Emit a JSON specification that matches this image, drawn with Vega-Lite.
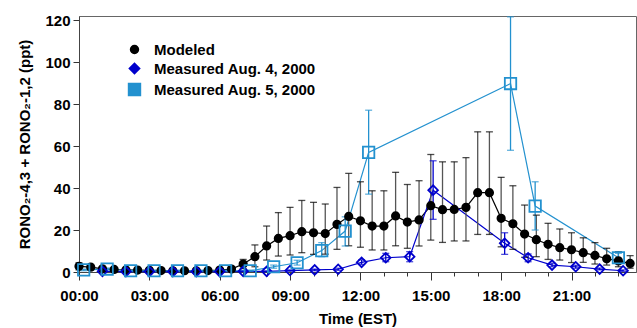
{
  "$schema": "https://vega.github.io/schema/vega-lite/v6.json",
  "width": 557,
  "height": 256,
  "autosize": {"type": "none"},
  "padding": {"left": 79, "top": 16, "right": 1, "bottom": 56},
  "background": "white",
  "config": {
    "font": "Liberation Sans",
    "view": {"stroke": "#666", "strokeWidth": 1},
    "axis": {"labelFont": "Liberation Sans", "labelFontSize": 15, "labelFontWeight": "bold", "labelColor": "black", "titleFont": "Liberation Sans", "titleFontSize": 15, "titleFontWeight": "bold", "titleColor": "black", "domainColor": "#444", "tickColor": "#333", "grid": false}
  },
  "data": {"values": [
    {"series": "Modeled", "t": 0.0, "v": 2.7, "lo": 1.0, "hi": 4.4},
    {"series": "Modeled", "t": 0.5, "v": 2.3, "lo": 1.0, "hi": 3.6},
    {"series": "Modeled", "t": 1.0, "v": 1.5, "lo": 0.6, "hi": 2.4},
    {"series": "Modeled", "t": 1.5, "v": 1.2, "lo": 0.5, "hi": 2.0},
    {"series": "Modeled", "t": 2.0, "v": 1.0, "lo": 0.4, "hi": 1.6},
    {"series": "Modeled", "t": 2.5, "v": 0.9, "lo": 0.4, "hi": 1.4},
    {"series": "Modeled", "t": 3.0, "v": 0.8, "lo": 0.3, "hi": 1.3},
    {"series": "Modeled", "t": 3.5, "v": 0.7, "lo": 0.3, "hi": 1.1},
    {"series": "Modeled", "t": 4.0, "v": 0.6, "lo": 0.3, "hi": 1.0},
    {"series": "Modeled", "t": 4.5, "v": 0.6, "lo": 0.3, "hi": 1.0},
    {"series": "Modeled", "t": 5.0, "v": 0.6, "lo": 0.3, "hi": 1.0},
    {"series": "Modeled", "t": 5.5, "v": 0.7, "lo": 0.3, "hi": 1.1},
    {"series": "Modeled", "t": 6.0, "v": 0.9, "lo": 0.4, "hi": 1.5},
    {"series": "Modeled", "t": 6.5, "v": 1.4, "lo": 0.6, "hi": 2.4},
    {"series": "Modeled", "t": 7.0, "v": 3.8, "lo": 1.6, "hi": 6.0},
    {"series": "Modeled", "t": 7.5, "v": 7.3, "lo": 2.5, "hi": 12.9},
    {"series": "Modeled", "t": 8.0, "v": 12.4, "lo": 5.7, "hi": 21.9},
    {"series": "Modeled", "t": 8.5, "v": 16.0, "lo": 7.6, "hi": 28.3},
    {"series": "Modeled", "t": 9.0, "v": 17.3, "lo": 8.1, "hi": 30.8},
    {"series": "Modeled", "t": 9.5, "v": 19.2, "lo": 9.2, "hi": 34.1},
    {"series": "Modeled", "t": 10.0, "v": 18.7, "lo": 8.4, "hi": 33.2},
    {"series": "Modeled", "t": 10.5, "v": 18.3, "lo": 8.5, "hi": 32.4},
    {"series": "Modeled", "t": 11.0, "v": 22.7, "lo": 10.8, "hi": 40.3},
    {"series": "Modeled", "t": 11.5, "v": 26.5, "lo": 12.5, "hi": 47.0},
    {"series": "Modeled", "t": 12.0, "v": 24.4, "lo": 11.8, "hi": 43.0},
    {"series": "Modeled", "t": 12.5, "v": 21.9, "lo": 10.5, "hi": 38.7},
    {"series": "Modeled", "t": 13.0, "v": 21.9, "lo": 10.5, "hi": 38.7},
    {"series": "Modeled", "t": 13.5, "v": 26.7, "lo": 12.5, "hi": 47.5},
    {"series": "Modeled", "t": 14.0, "v": 23.8, "lo": 11.3, "hi": 41.7},
    {"series": "Modeled", "t": 14.5, "v": 24.8, "lo": 12.4, "hi": 43.5},
    {"series": "Modeled", "t": 15.0, "v": 31.6, "lo": 15.2, "hi": 56.0},
    {"series": "Modeled", "t": 15.5, "v": 29.7, "lo": 14.1, "hi": 52.5},
    {"series": "Modeled", "t": 16.0, "v": 29.8, "lo": 14.8, "hi": 52.5},
    {"series": "Modeled", "t": 16.5, "v": 30.8, "lo": 14.8, "hi": 54.5},
    {"series": "Modeled", "t": 17.0, "v": 37.8, "lo": 17.9, "hi": 66.8},
    {"series": "Modeled", "t": 17.5, "v": 37.8, "lo": 17.9, "hi": 66.8},
    {"series": "Modeled", "t": 18.0, "v": 25.6, "lo": 12.0, "hi": 45.1},
    {"series": "Modeled", "t": 18.5, "v": 23.0, "lo": 10.8, "hi": 41.1},
    {"series": "Modeled", "t": 19.0, "v": 18.1, "lo": 7.0, "hi": 31.9},
    {"series": "Modeled", "t": 19.5, "v": 15.4, "lo": 7.3, "hi": 27.1},
    {"series": "Modeled", "t": 20.0, "v": 13.2, "lo": 6.0, "hi": 23.2},
    {"series": "Modeled", "t": 20.5, "v": 11.6, "lo": 5.7, "hi": 20.5},
    {"series": "Modeled", "t": 21.0, "v": 10.6, "lo": 4.5, "hi": 18.7},
    {"series": "Modeled", "t": 21.5, "v": 9.2, "lo": 4.6, "hi": 16.3},
    {"series": "Modeled", "t": 22.0, "v": 7.9, "lo": 3.8, "hi": 14.0},
    {"series": "Modeled", "t": 22.5, "v": 6.3, "lo": 3.3, "hi": 11.3},
    {"series": "Modeled", "t": 23.0, "v": 5.3, "lo": 2.5, "hi": 9.7},
    {"series": "Modeled", "t": 23.5, "v": 4.1, "lo": 1.8, "hi": 7.8},
    {"series": "Measured Aug. 4, 2000", "t": 1.0, "v": 0.3, "lo": 0.1, "hi": 0.5},
    {"series": "Measured Aug. 4, 2000", "t": 2.0, "v": 0.2, "lo": 0.1, "hi": 0.4},
    {"series": "Measured Aug. 4, 2000", "t": 3.0, "v": 0.2, "lo": 0.1, "hi": 0.4},
    {"series": "Measured Aug. 4, 2000", "t": 4.0, "v": 0.2, "lo": 0.1, "hi": 0.4},
    {"series": "Measured Aug. 4, 2000", "t": 5.0, "v": 0.2, "lo": 0.1, "hi": 0.4},
    {"series": "Measured Aug. 4, 2000", "t": 6.0, "v": 0.2, "lo": 0.1, "hi": 0.4},
    {"series": "Measured Aug. 4, 2000", "t": 7.0, "v": 0.3, "lo": 0.1, "hi": 0.5},
    {"series": "Measured Aug. 4, 2000", "t": 8.0, "v": 0.3, "lo": 0.1, "hi": 0.5},
    {"series": "Measured Aug. 4, 2000", "t": 9.0, "v": 0.7, "lo": 0.4, "hi": 1.0},
    {"series": "Measured Aug. 4, 2000", "t": 10.05, "v": 1.0, "lo": 0.6, "hi": 1.4},
    {"series": "Measured Aug. 4, 2000", "t": 11.05, "v": 1.3, "lo": 0.8, "hi": 1.8},
    {"series": "Measured Aug. 4, 2000", "t": 12.05, "v": 4.6, "lo": 3.6, "hi": 5.8},
    {"series": "Measured Aug. 4, 2000", "t": 13.08, "v": 6.8, "lo": 4.9, "hi": 8.9},
    {"series": "Measured Aug. 4, 2000", "t": 14.1, "v": 7.3, "lo": 4.9, "hi": 9.7},
    {"series": "Measured Aug. 4, 2000", "t": 15.1, "v": 39.0, "lo": 25.1, "hi": 53.0},
    {"series": "Measured Aug. 4, 2000", "t": 18.15, "v": 13.7, "lo": 8.4, "hi": 18.7},
    {"series": "Measured Aug. 4, 2000", "t": 19.15, "v": 6.8, "lo": 4.9, "hi": 8.6},
    {"series": "Measured Aug. 4, 2000", "t": 20.17, "v": 3.3, "lo": 2.5, "hi": 4.2},
    {"series": "Measured Aug. 4, 2000", "t": 21.18, "v": 2.5, "lo": 1.8, "hi": 3.2},
    {"series": "Measured Aug. 4, 2000", "t": 22.2, "v": 1.4, "lo": 1.0, "hi": 1.9},
    {"series": "Measured Aug. 4, 2000", "t": 23.2, "v": 0.6, "lo": 0.3, "hi": 1.0},
    {"series": "Measured Aug. 5, 2000", "t": 0.2, "v": 1.0, "lo": 0.6, "hi": 1.4},
    {"series": "Measured Aug. 5, 2000", "t": 1.2, "v": 1.4, "lo": 0.9, "hi": 1.9},
    {"series": "Measured Aug. 5, 2000", "t": 2.2, "v": 0.6, "lo": 0.3, "hi": 0.9},
    {"series": "Measured Aug. 5, 2000", "t": 3.2, "v": 0.6, "lo": 0.3, "hi": 0.9},
    {"series": "Measured Aug. 5, 2000", "t": 4.2, "v": 0.6, "lo": 0.3, "hi": 0.9},
    {"series": "Measured Aug. 5, 2000", "t": 5.2, "v": 0.6, "lo": 0.3, "hi": 0.9},
    {"series": "Measured Aug. 5, 2000", "t": 6.25, "v": 0.6, "lo": 0.3, "hi": 0.9},
    {"series": "Measured Aug. 5, 2000", "t": 7.3, "v": 0.6, "lo": 0.3, "hi": 0.9},
    {"series": "Measured Aug. 5, 2000", "t": 8.3, "v": 2.5, "lo": 1.8, "hi": 3.3},
    {"series": "Measured Aug. 5, 2000", "t": 9.3, "v": 4.4, "lo": 3.3, "hi": 5.6},
    {"series": "Measured Aug. 5, 2000", "t": 10.35, "v": 10.2, "lo": 7.3, "hi": 14.0},
    {"series": "Measured Aug. 5, 2000", "t": 11.35, "v": 19.5, "lo": 12.4, "hi": 26.3},
    {"series": "Measured Aug. 5, 2000", "t": 12.35, "v": 57.0, "lo": 37.1, "hi": 77.1},
    {"series": "Measured Aug. 5, 2000", "t": 18.4, "v": 89.8, "lo": 58.0, "hi": 121.6},
    {"series": "Measured Aug. 5, 2000", "t": 19.45, "v": 31.4, "lo": 20.0, "hi": 43.0},
    {"series": "Measured Aug. 5, 2000", "t": 23.0, "v": 6.8, "lo": 4.9, "hi": 8.9}
  ]},
  "encoding": {
    "x": {"field": "t", "type": "quantitative", "title": "Time (EST)",
      "scale": {"domain": [0, 23.75], "nice": false, "zero": false},
      "axis": {"values": [0,1,2,3,4,5,6,7,8,9,10,11,12,13,14,15,16,17,18,19,20,21,22,23],
        "labelExpr": "datum.value % 3 === 0 ? (datum.value < 10 ? '0' : '') + datum.value + ':00' : ''",
        "tickSize": {"condition": {"test": "datum.value % 3 === 0", "value": 8}, "value": 4},
        "labelPadding": 8, "titlePadding": 8, "labelOverlap": false, "labelFlush": false}}
  },
  "layer": [
    {
      "mark": {"type": "line", "strokeWidth": 1.2},
      "encoding": {
        "y": {"field": "v", "type": "quantitative", "title": "RONO₂-4,3 + RONO₂-1,2 (ppt)",
          "scale": {"domain": [0, 122], "nice": false},
          "axis": {"values": [0, 20, 40, 60, 80, 100, 120], "tickSize": 6, "labelPadding": 3, "titlePadding": 12}},
        "stroke": {"field": "series", "type": "nominal",
          "scale": {"domain": ["Modeled", "Measured Aug. 4, 2000", "Measured Aug. 5, 2000"], "range": ["black", "#0000cc", "#2391cf"]}}
      }
    },
    {
      "mark": {"type": "rule", "strokeWidth": 1.3},
      "encoding": {
        "y": {"field": "lo", "type": "quantitative", "title": "RONO₂-4,3 + RONO₂-1,2 (ppt)",
          "axis": {"values": [0, 20, 40, 60, 80, 100, 120], "tickSize": 6, "labelPadding": 3, "titlePadding": 12}},
        "y2": {"field": "hi"},
        "color": {"condition": {"test": "datum.series === 'Modeled'", "value": "#555555"},
          "field": "series", "type": "nominal",
          "scale": {"domain": ["Modeled", "Measured Aug. 4, 2000", "Measured Aug. 5, 2000"], "range": ["black", "#0000cc", "#2391cf"]},
          "legend": null}
      }
    },
    {
      "mark": {"type": "tick", "orient": "horizontal", "size": 7, "thickness": 1.3},
      "encoding": {
        "y": {"field": "hi", "type": "quantitative", "title": "RONO₂-4,3 + RONO₂-1,2 (ppt)",
          "axis": {"values": [0, 20, 40, 60, 80, 100, 120], "tickSize": 6, "labelPadding": 3, "titlePadding": 12}},
        "color": {"field": "series", "type": "nominal", "legend": null}
      }
    },
    {
      "mark": {"type": "tick", "orient": "horizontal", "size": 7, "thickness": 1.3},
      "encoding": {
        "y": {"field": "lo", "type": "quantitative", "title": "RONO₂-4,3 + RONO₂-1,2 (ppt)",
          "axis": {"values": [0, 20, 40, 60, 80, 100, 120], "tickSize": 6, "labelPadding": 3, "titlePadding": 12}},
        "color": {"field": "series", "type": "nominal", "legend": null}
      }
    },
    {
      "mark": {"type": "point", "strokeWidth": 1.8, "opacity": 1},
      "encoding": {
        "y": {"field": "v", "type": "quantitative", "title": "RONO₂-4,3 + RONO₂-1,2 (ppt)",
          "axis": {"values": [0, 20, 40, 60, 80, 100, 120], "tickSize": 6, "labelPadding": 3, "titlePadding": 12}},
        "stroke": {"field": "series", "type": "nominal",
          "legend": {"title": null, "orient": "none", "legendX": 48, "legendY": 26, "symbolSize": 90, "labelOffset": 12, "rowPadding": 1, "labelLimit": 400,
            "labelFont": "Liberation Sans", "labelFontSize": 15, "labelFontWeight": "bold", "labelColor": "black", "symbolStrokeWidth": 2, "symbolFillColor": "white"}},
        "shape": {"field": "series", "type": "nominal",
          "scale": {"domain": ["Modeled", "Measured Aug. 4, 2000", "Measured Aug. 5, 2000"], "range": ["circle", "diamond", "square"]},
          "legend": {"title": null, "orient": "none", "legendX": 48, "legendY": 26, "symbolSize": 90, "labelOffset": 12, "rowPadding": 1, "labelLimit": 400,
            "labelFont": "Liberation Sans", "labelFontSize": 15, "labelFontWeight": "bold", "labelColor": "black", "symbolStrokeWidth": 2, "symbolFillColor": "white"}},
        "fill": {"field": "series", "type": "nominal",
          "scale": {"domain": ["Modeled", "Measured Aug. 4, 2000", "Measured Aug. 5, 2000"], "range": ["black", "transparent", "transparent"]},
          "legend": null},
        "size": {"field": "series", "type": "nominal",
          "scale": {"domain": ["Modeled", "Measured Aug. 4, 2000", "Measured Aug. 5, 2000"], "range": [55, 130, 56]},
          "legend": null}
      }
    }
  ]
}
